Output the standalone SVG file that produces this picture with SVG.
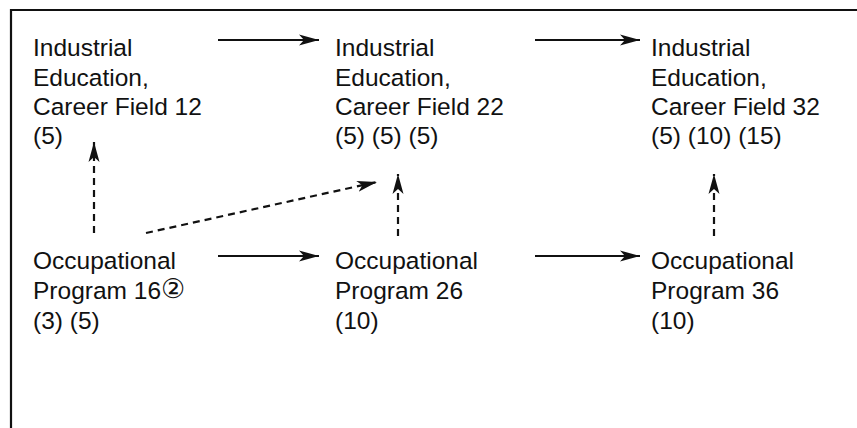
<svg xmlns="http://www.w3.org/2000/svg" width="857" height="428" viewBox="0 0 857 428">
<style>
.t{font-family:"Liberation Sans",Arial,sans-serif;font-size:24.5px;fill:#111}
.s{stroke:#111;stroke-width:2.2;fill:none}
.d{stroke:#111;stroke-width:2.2;fill:none;stroke-dasharray:7 5}
</style>
<defs>
<marker id="ah" markerWidth="24" markerHeight="14" refX="20" refY="7" orient="auto" markerUnits="userSpaceOnUse">
<path d="M0,1.5 L20,7 L0,12.5 L5,7 Z" fill="#111"/>
</marker>
</defs>
<rect width="857" height="428" fill="#fff"/>
<g id="frame">
<path class="s" d="M11,428 L11,10 L857,10"/>
</g>
<g id="connectors">
<line class="s" x1="218" y1="40" x2="319" y2="40" marker-end="url(#ah)"/>
<line class="s" x1="535" y1="40" x2="640" y2="40" marker-end="url(#ah)"/>
<line class="s" x1="218" y1="256" x2="319" y2="256" marker-end="url(#ah)"/>
<line class="s" x1="535" y1="256" x2="640" y2="256" marker-end="url(#ah)"/>
<line class="d" x1="94" y1="233" x2="94" y2="142" marker-end="url(#ah)"/>
<line class="d" x1="146" y1="233" x2="377" y2="182" marker-end="url(#ah)"/>
<line class="d" x1="398" y1="236" x2="398" y2="174" marker-end="url(#ah)"/>
<line class="d" x1="714" y1="236" x2="714" y2="174" marker-end="url(#ah)"/>
</g>
<g id="ie12">
<text class="t" x="33" y="56">Industrial</text>
<text class="t" x="33" y="86">Education,</text>
<text class="t" x="33" y="115">Career Field 12</text>
<text class="t" x="33" y="144">(5)</text>
</g>
<g id="ie22">
<text class="t" x="335" y="56">Industrial</text>
<text class="t" x="335" y="86">Education,</text>
<text class="t" x="335" y="115">Career Field 22</text>
<text class="t" x="335" y="144">(5) (5) (5)</text>
</g>
<g id="ie32">
<text class="t" x="651" y="56">Industrial</text>
<text class="t" x="651" y="86">Education,</text>
<text class="t" x="651" y="115">Career Field 32</text>
<text class="t" x="651" y="144">(5) (10) (15)</text>
</g>
<g id="op16">
<text class="t" x="33" y="269">Occupational</text>
<text class="t" x="33" y="299">Program 16<tspan font-family="'DejaVu Sans',sans-serif" font-size="27" dy="-1">②</tspan></text>
<text class="t" x="33" y="329">(3) (5)</text>
</g>
<g id="op26">
<text class="t" x="335" y="269">Occupational</text>
<text class="t" x="335" y="299">Program 26</text>
<text class="t" x="335" y="329">(10)</text>
</g>
<g id="op36">
<text class="t" x="651" y="269">Occupational</text>
<text class="t" x="651" y="299">Program 36</text>
<text class="t" x="651" y="329">(10)</text>
</g>
</svg>
